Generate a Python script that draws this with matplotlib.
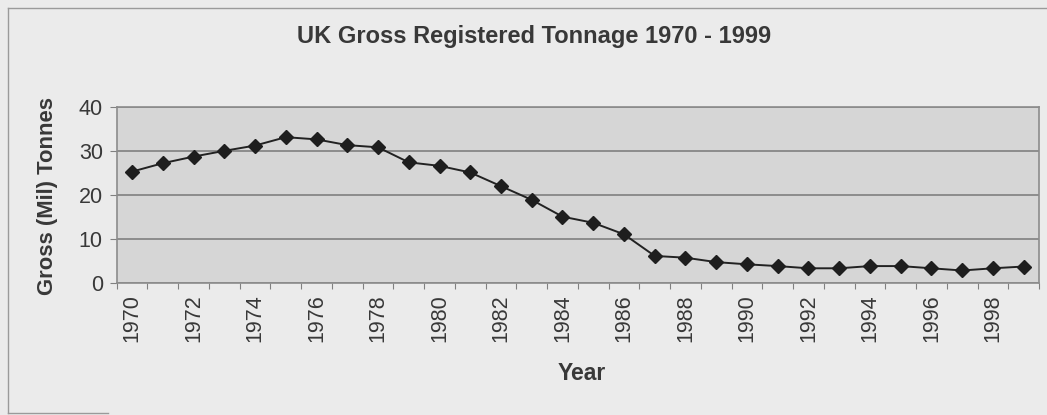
import matplotlib
matplotlib.use("Agg")
import matplotlib.pyplot as plt
from matplotlib.lines import Line2D

# UK gross registered tonnage, millions of tonnes
years = list(range(1970, 2000))
tonnage = [25.3, 27.2, 28.7, 30.0, 31.2, 33.1, 32.6, 31.3, 30.8, 27.4,
           26.6, 25.1, 22.0, 18.9, 15.1, 13.7, 11.1, 6.2, 5.8, 4.8,
           4.3, 3.9, 3.4, 3.4, 3.9, 3.9, 3.4, 2.9, 3.4, 3.8]
year_labels = [str(y) if (y - 1970) % 2 == 0 else "" for y in years]
y_ticks = [0, 10, 20, 30, 40]

plt.rcParams["font.family"] = ["Liberation Sans", "DejaVu Sans"]
text_col = "#383838"

W, H = 1047, 415
fig = plt.figure(figsize=(W / 100, H / 100), dpi=100)
fig.patch.set_facecolor("#ebebeb")

# chart-area frame
fig.add_artist(Line2D([8 / W, 8 / W], [1 - 8 / H, 1 - 413 / H],
                      transform=fig.transFigure, color="#9a9a9a", lw=1))
fig.add_artist(Line2D([8 / W, 1.0], [1 - 8 / H, 1 - 8 / H],
                      transform=fig.transFigure, color="#9a9a9a", lw=1))
fig.add_artist(Line2D([8 / W, 108 / W], [1 - 413 / H, 1 - 413 / H],
                      transform=fig.transFigure, color="#9a9a9a", lw=1))

left, right = 116.7 / W, 1039 / W
bottom, top = 1 - 283.3 / H, 1 - 106.7 / H
ax = fig.add_axes([left, bottom, right - left, top - bottom])
ax.set_facecolor("#d6d6d6")

x = list(range(len(years)))
ax.plot(x, tonnage, color="#222222", lw=1.4, marker="D", markersize=7,
        markerfacecolor="#1e1e1e", markeredgecolor="#1e1e1e", zorder=3)

ax.set_xlim(-0.5, len(years) - 0.5)
ax.set_ylim(0, 40)
ax.set_yticks(y_ticks)
ax.yaxis.grid(True, color="#808080", lw=1.2)
ax.set_axisbelow(True)

# category ticks on the boundaries, labels centred on points
ax.set_xticks([i - 0.5 for i in range(len(years) + 1)])
ax.set_xticklabels([])
ax.set_xticks(x, minor=True)
ax.set_xticklabels(year_labels, minor=True, rotation=90,
                   fontsize=15.5, color=text_col)
ax.tick_params(axis="x", which="major", length=4, color="#808080",
               direction="out")
ax.tick_params(axis="x", which="minor", length=0, pad=8)
ax.tick_params(axis="y", length=5, color="#808080", labelsize=15.5,
               labelcolor=text_col, pad=5)

for s in ax.spines.values():
    s.set_color("#8c8c8c")
    s.set_linewidth(1.2)

fig.text(534 / W, 1 - 36 / H, "UK Gross Registered Tonnage 1970 - 1999",
         ha="center", va="center", fontsize=17, fontweight="bold",
         color=text_col)
fig.text(48 / W, 1 - 196 / H, "Gross (Mil) Tonnes", rotation=90,
         ha="center", va="center", fontsize=15.8, fontweight="bold",
         color=text_col)
fig.text(582 / W, 1 - 374 / H, "Year", ha="center", va="center",
         fontsize=16.5, fontweight="bold", color=text_col)

fig.savefig("out.png", dpi=100, facecolor=fig.get_facecolor())
